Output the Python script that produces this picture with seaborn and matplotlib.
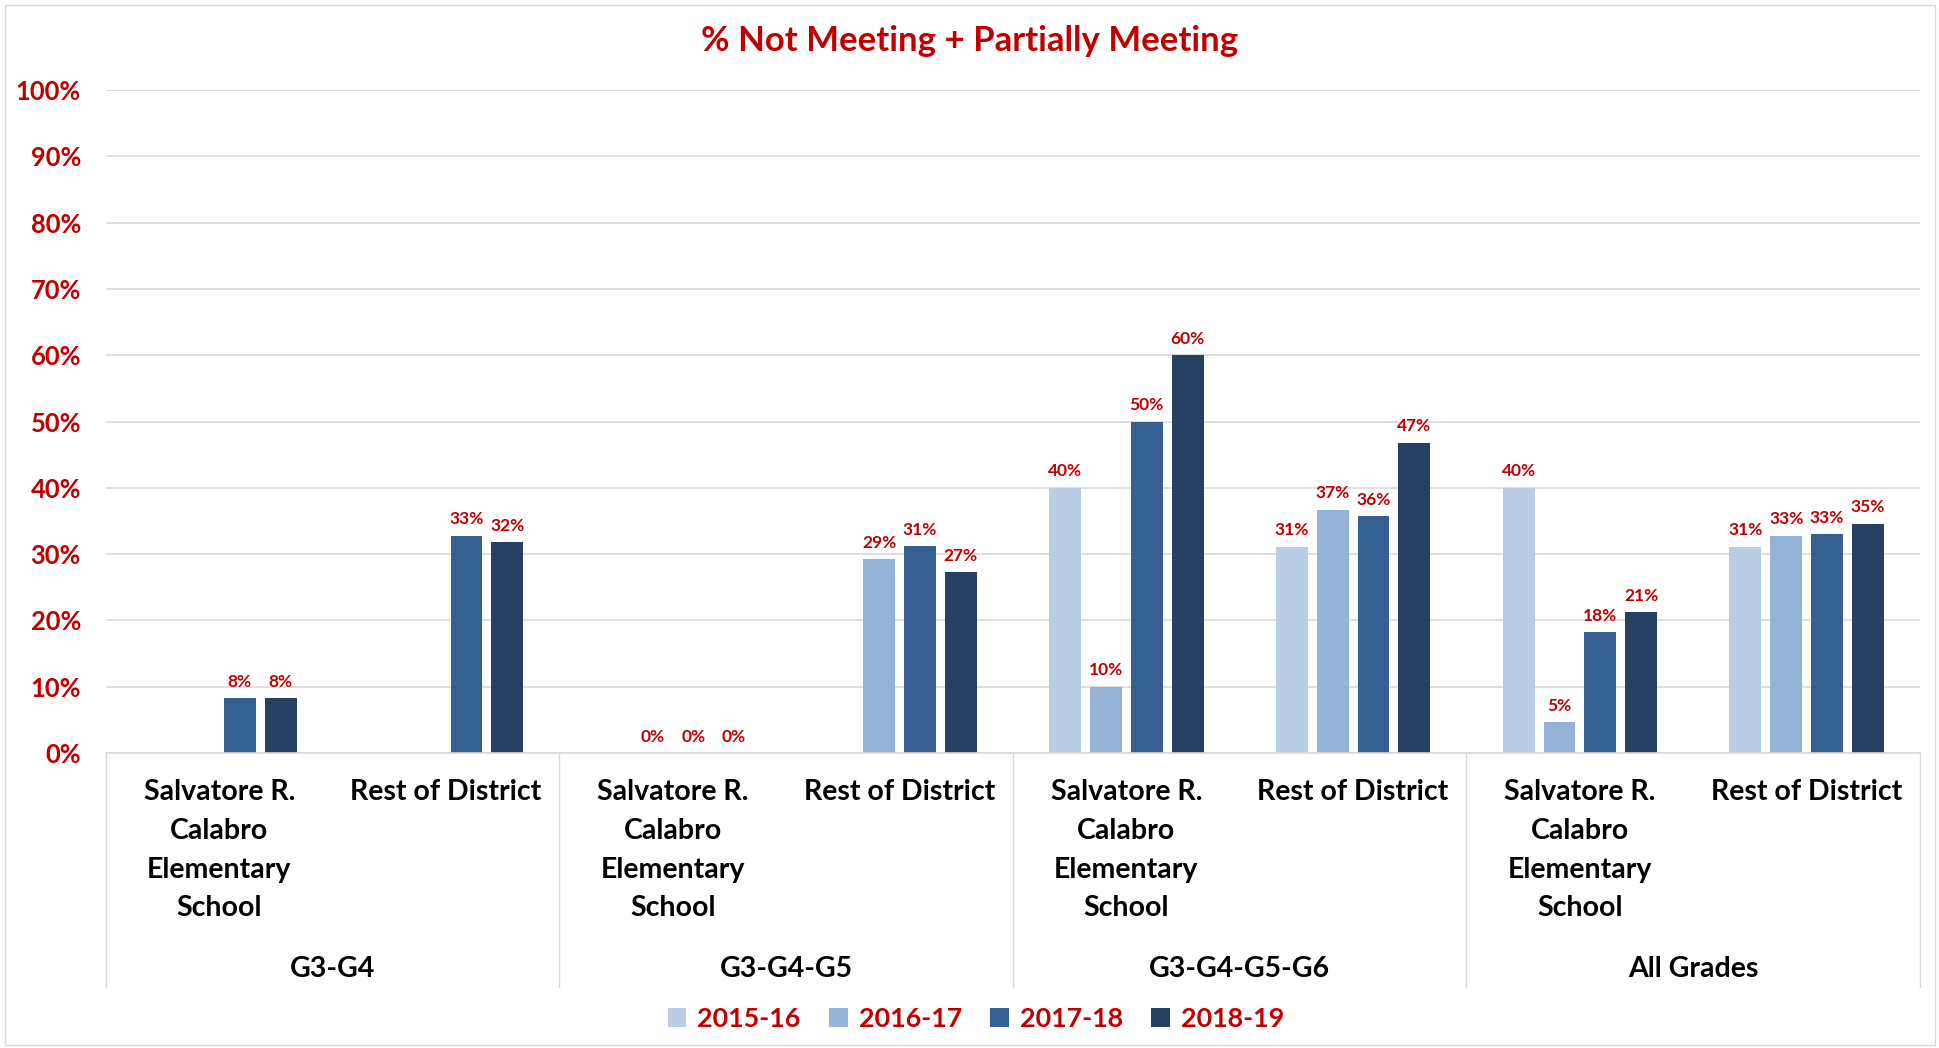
import matplotlib
matplotlib.use("Agg")
import matplotlib.pyplot as plt
import matplotlib.transforms as mtransforms
from matplotlib.patches import Rectangle, Patch
import seaborn as sns
import numpy as np
import pandas as pd

# data (percent)
groups = ["G3-G4", "G3-G4-G5", "G3-G4-G5-G6", "All Grades"]
entities = ["Salvatore R.\nCalabro\nElementary\nSchool", "Rest of District"]
years = ["2015-16", "2016-17", "2017-18", "2018-19"]

v_2015 = [np.nan, np.nan, np.nan, np.nan, 40.0, 31.1, 40.0, 31.1]
v_2016 = [np.nan, np.nan, 0.0, 29.2, 10.0, 36.7, 4.7, 32.8]
v_2017 = [8.3, 32.8, 0.0, 31.2, 50.0, 35.7, 18.2, 33.0]
v_2018 = [8.3, 31.8, 0.0, 27.3, 60.0, 46.8, 21.2, 34.6]

colors = ["#B9CDE5", "#95B3D7", "#366092", "#254061"]
red = "#C00000"

keys = [f"{g}|{e}" for g in groups for e in entities]
tick_labels = [e for g in groups for e in entities]

rows = []
for yr, vals in zip(years, [v_2015, v_2016, v_2017, v_2018]):
    for k, v in zip(keys, vals):
        rows.append({"cat": k, "year": yr, "value": v})
df = pd.DataFrame(rows)

sns.set_theme(style="white")
plt.rcParams["font.family"] = ["Lato", "DejaVu Sans"]

fig = plt.figure(figsize=(19.4, 10.48), dpi=100)
ax = fig.add_axes([106 / 1940, 1 - 753 / 1048, (1920 - 106) / 1940, (753 - 90) / 1048])

sns.barplot(data=df, x="cat", y="value", hue="year", order=keys, hue_order=years,
            palette=colors, saturation=1, width=0.72, gap=0.22, errorbar=None, linewidth=0,
            legend=False, ax=ax)

for c in ax.containers:
    labs = ["" if np.isnan(v) else f"{v:.0f}%" for v in c.datavalues]
    ax.bar_label(c, labels=labs, padding=6, color=red, fontsize=12.5, fontweight="bold")

ax.set_ylim(0, 100)
ax.set_xlim(-0.5, len(keys) - 0.5)
ax.set_yticks(range(0, 101, 10))
ax.set_yticklabels([f"{t}%" for t in range(0, 101, 10)], color=red, fontsize=18.4, fontweight="bold")
ax.yaxis.grid(True, color="#D9D9D9", linewidth=1.2)
ax.set_axisbelow(True)
ax.tick_params(axis="y", length=0, pad=18)

ax.set_xticks(range(len(keys)))
ax.set_xticklabels(tick_labels, fontsize=20.5, fontweight="bold", color="black", linespacing=1.6)
ax.tick_params(axis="x", length=0, pad=19)
ax.set_xlabel("")
ax.set_ylabel("")

for s in ["top", "right", "left"]:
    ax.spines[s].set_visible(False)
ax.spines["bottom"].set_color("#D9D9D9")
ax.spines["bottom"].set_linewidth(1.2)

trans = mtransforms.blended_transform_factory(ax.transData, ax.transAxes)
for xb in [-0.5, 1.5, 3.5, 5.5, 7.5]:
    ax.plot([xb, xb], [0, -0.353], transform=trans, color="#D9D9D9", linewidth=1, clip_on=False)
for i, g in enumerate(groups):
    ax.text(2 * i + 0.5, -0.326, g, transform=trans, ha="center", va="center",
            fontsize=20.5, fontweight="bold", color="black")

fig.text(0.5, 1 - 41 / 1048, "% Not Meeting + Partially Meeting", ha="center", va="center",
         fontsize=25, fontweight="bold", color=red)

handles = [Patch(facecolor=c, edgecolor="none", label=y) for c, y in zip(colors, years)]
leg = fig.legend(handles=handles, loc="center", bbox_to_anchor=(0.503, 1 - 1019 / 1048), ncol=4,
                 frameon=False, handlelength=0.7, handleheight=0.7, handletextpad=0.4,
                 columnspacing=1.05, prop={"weight": "bold", "size": 19.4})
for t in leg.get_texts():
    t.set_color(red)

fig.patches.append(Rectangle((5 / 1940, 3 / 1048), 1930 / 1940, 1040 / 1048, transform=fig.transFigure,
                             fill=False, edgecolor="#D9D9D9", linewidth=1))

fig.savefig("out.png", dpi=100)
plt.close(fig)
